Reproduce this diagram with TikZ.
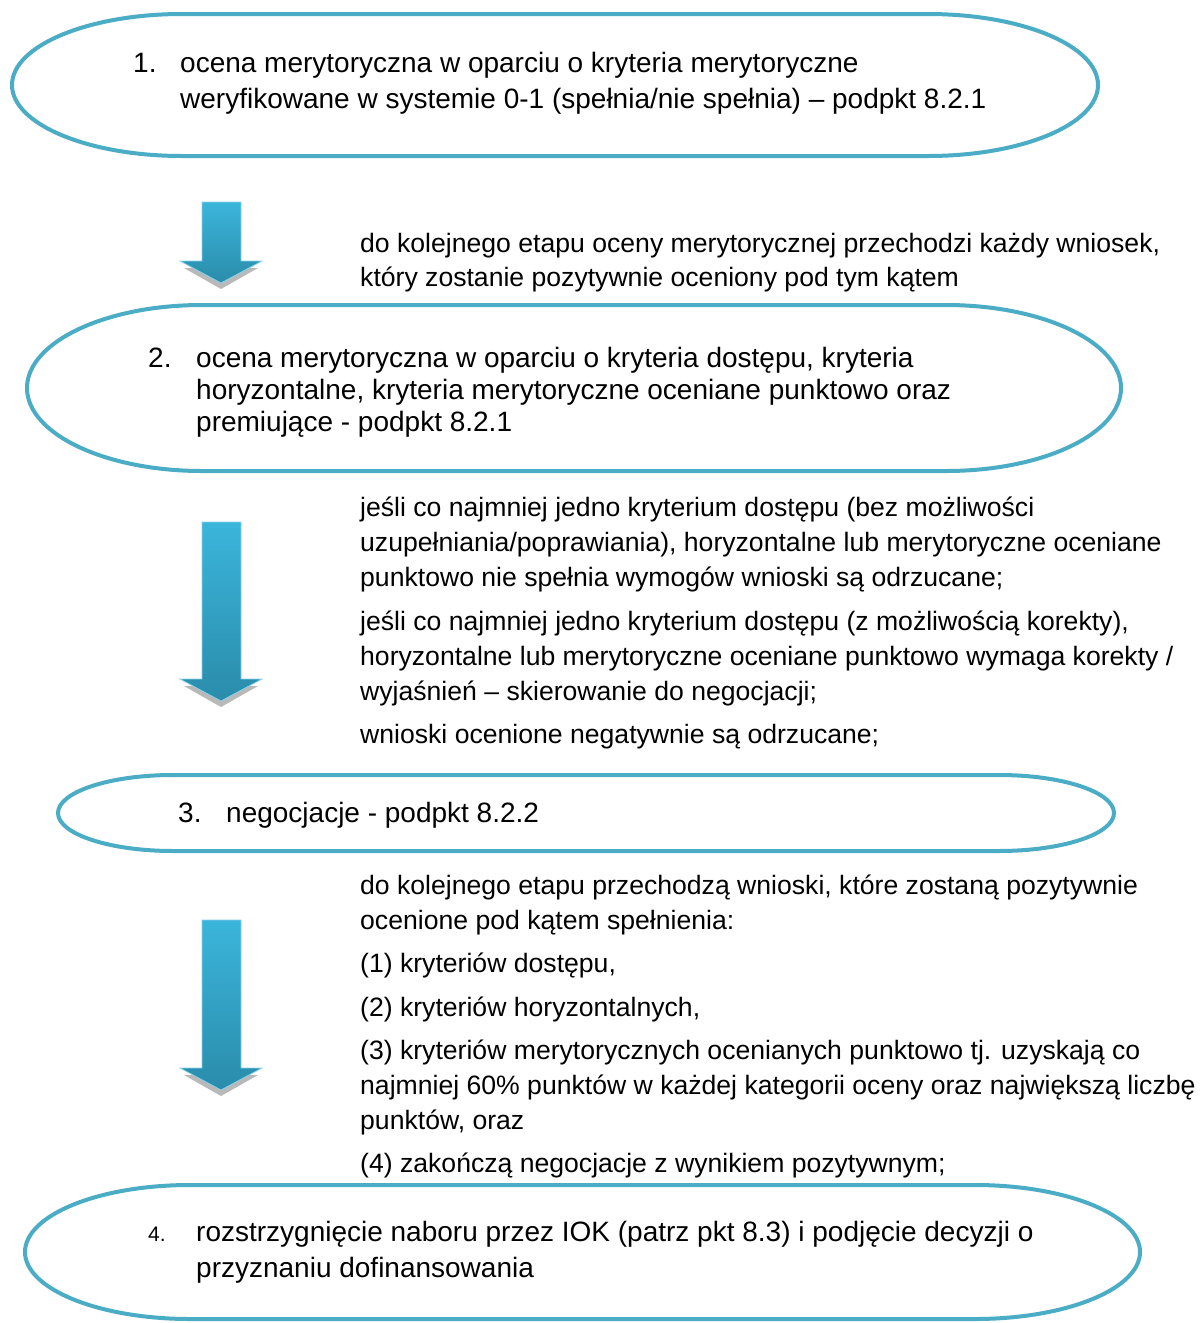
\documentclass[tikz,border=0pt]{standalone}
\usepackage{fontspec}
\setmainfont{Liberation Sans}
\definecolor{ovalc}{HTML}{4BACC6}
\definecolor{arrtop}{HTML}{3BB5DB}
\definecolor{arrbot}{HTML}{2A8CAB}
\newcommand\myoval[5]{%
 \draw[oval] ({#1+#5},#2) -- ({#3-#5},#2)
  .. controls ({#3-0.4477*#5},#2) and (#3,{(#2+#4)/2-0.5523*(#4-#2)/2}) .. (#3,{(#2+#4)/2})
  .. controls (#3,{(#2+#4)/2+0.5523*(#4-#2)/2}) and ({#3-0.4477*#5},#4) .. ({#3-#5},#4)
  -- ({#1+#5},#4)
  .. controls ({#1+0.4477*#5},#4) and (#1,{(#2+#4)/2+0.5523*(#4-#2)/2}) .. (#1,{(#2+#4)/2})
  .. controls (#1,{(#2+#4)/2-0.5523*(#4-#2)/2}) and ({#1+0.4477*#5},#2) .. cycle;}
\newcommand\myarrow[3]{%
 \fill[gray!55] (184,{#2+7}) -- (258,{#2+7}) -- (221,{#3+6}) -- cycle;
 \shadedraw[top color=arrtop,bottom color=arrbot,draw=arrtop!60!white,line width=0.8pt]
  (202,#1) -- (241,#1) -- (241,#2) -- (262,#2) -- (221,#3) -- (180,#2) -- (202,#2) -- cycle;}
\begin{document}
\begin{tikzpicture}[x=1pt,y=-1pt,
  oval/.style={draw=ovalc,line width=4pt},
  txt/.style={anchor=base west,inner sep=0pt,font=\fontsize{26.6}{32}\selectfont},
  otxt/.style={anchor=base west,inner sep=0pt,font=\fontsize{28}{33}\selectfont},
  smallnum/.style={anchor=base west,inner sep=0pt,font=\fontsize{21}{26}\selectfont}]
\useasboundingbox (0,0) rectangle (1202,1323);
\fill[white] (0,0) rectangle (1202,1323);
% ovals
\myoval{12}{14}{1098}{156}{170}
\myoval{27}{305}{1121}{471}{175}
\myoval{58}{775}{1114}{851}{115}
\myoval{25}{1185}{1140}{1319}{165}
% arrows
\myarrow{202}{261}{283}
\myarrow{522}{679}{701}
\myarrow{920}{1068}{1090}
% stage 1
\node[otxt] (n1) at (133,72) {1.};
\node[otxt] (s1a) at (180,72) {ocena merytoryczna w oparciu o kryteria merytoryczne};
\node[otxt] (s1b) at (180,108) {weryfikowane w systemie 0-1 (spełnia/nie spełnia) – podpkt 8.2.1};
% text A
\node[txt] (a1) at (360,252) {do kolejnego etapu oceny merytorycznej przechodzi każdy wniosek,};
\node[txt] (a2) at (360,286) {który zostanie pozytywnie oceniony pod tym kątem};
% stage 2
\node[otxt] (n2) at (148,367) {2.};
\node[otxt] (s2a) at (196,367) {ocena merytoryczna w oparciu o kryteria dostępu, kryteria};
\node[otxt] (s2b) at (196,399) {horyzontalne, kryteria merytoryczne oceniane punktowo oraz};
\node[otxt] (s2c) at (196,431) {premiujące - podpkt 8.2.1};
% text B
\node[txt] (b1) at (360,516) {jeśli co najmniej jedno kryterium dostępu (bez możliwości};
\node[txt] (b2) at (360,551) {uzupełniania/poprawiania), horyzontalne lub merytoryczne oceniane};
\node[txt] (b3) at (360,586) {punktowo nie spełnia wymogów wnioski są odrzucane;};
\node[txt] (b4) at (360,630) {jeśli co najmniej jedno kryterium dostępu (z możliwością korekty),};
\node[txt] (b5) at (360,665) {horyzontalne lub merytoryczne oceniane punktowo wymaga korekty /};
\node[txt] (b6) at (360,700) {wyjaśnień – skierowanie do negocjacji;};
\node[txt] (b7) at (360,743) {wnioski ocenione negatywnie są odrzucane;};
% stage 3
\node[otxt] (n3) at (178,822) {3.};
\node[otxt] (s3a) at (226,822) {negocjacje - podpkt 8.2.2};
% text C
\node[txt] (c1) at (360,894) {do kolejnego etapu przechodzą wnioski, które zostaną pozytywnie};
\node[txt] (c2) at (360,929) {ocenione pod kątem spełnienia:};
\node[txt] (c3) at (360,972) {(1) kryteriów dostępu,};
\node[txt] (c4) at (360,1016) {(2) kryteriów horyzontalnych,};
\node[txt] (c5) at (360,1059) {(3) kryteriów merytorycznych ocenianych punktowo tj. uzyskają co};
\node[txt] (c6) at (360,1094) {najmniej 60\% punktów w każdej kategorii oceny oraz największą liczbę};
\node[txt] (c7) at (360,1129) {punktów, oraz};
\node[txt] (c8) at (360,1172) {(4) zakończą negocjacje z wynikiem pozytywnym;};
% stage 4
\node[smallnum] (n4) at (148,1241) {4.};
\node[otxt] (s4a) at (196,1241) {rozstrzygnięcie naboru przez IOK (patrz pkt 8.3) i podjęcie decyzji o};
\node[otxt] (s4b) at (196,1277) {przyznaniu dofinansowania};
\end{tikzpicture}
\end{document}
